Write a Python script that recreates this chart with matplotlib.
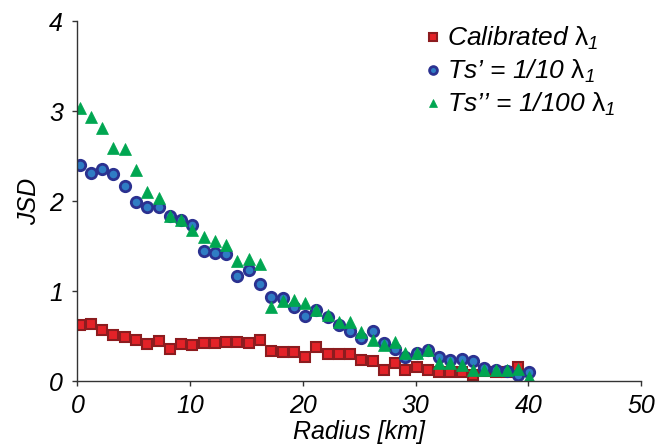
import matplotlib
matplotlib.use("Agg")
import matplotlib.pyplot as plt

plt.rcParams['font.family'] = ['Liberation Sans', 'DejaVu Sans']
plt.rcParams['font.style'] = 'italic'
plt.rcParams['mathtext.fontset'] = 'custom'
plt.rcParams['mathtext.rm'] = 'Liberation Sans:style=normal'
plt.rcParams['mathtext.it'] = 'Liberation Sans:style=italic'
plt.rcParams['mathtext.sf'] = 'Liberation Sans:style=italic'

# radius of each sample [km]
radius = [0.2, 1.2, 2.2, 3.2, 4.2, 5.2, 6.2, 7.2, 8.2, 9.2,
          10.2, 11.2, 12.2, 13.2, 14.2, 15.2, 16.2, 17.2, 18.2, 19.2,
          20.2, 21.2, 22.2, 23.2, 24.2, 25.2, 26.2, 27.2, 28.2, 29.1,
          30.1, 31.1, 32.1, 33.1, 34.1, 35.1, 36.1, 37.1, 38.1, 39.1, 40.1]

jsd_calibrated = [0.62, 0.64, 0.57, 0.51, 0.49, 0.46, 0.41, 0.45, 0.36, 0.41,
                  0.40, 0.43, 0.43, 0.44, 0.44, 0.43, 0.46, 0.34, 0.32, 0.33,
                  0.27, 0.38, 0.30, 0.30, 0.30, 0.24, 0.23, 0.13, 0.20, 0.12,
                  0.16, 0.12, 0.10, 0.10, 0.10, 0.07, 0.11, 0.10, 0.10, 0.16]

jsd_ts10 = [2.40, 2.31, 2.36, 2.30, 2.17, 1.99, 1.94, 1.93, 1.84, 1.79,
            1.73, 1.45, 1.42, 1.41, 1.17, 1.24, 1.08, 0.94, 0.93, 0.83,
            0.73, 0.79, 0.71, 0.63, 0.56, 0.48, 0.56, 0.43, 0.36, 0.27,
            0.31, 0.35, 0.27, 0.24, 0.25, 0.23, 0.15, 0.13, 0.11, 0.07, 0.10]

jsd_ts100 = [3.03, 2.93, 2.81, 2.59, 2.58, 2.35, 2.10, 2.04, 1.84, 1.79,
             1.68, 1.60, 1.56, 1.51, 1.34, 1.36, 1.30, 0.83, 0.89, 0.90,
             0.87, 0.79, 0.74, 0.66, 0.66, 0.55, 0.46, 0.40, 0.44, 0.31,
             0.31, 0.35, 0.20, 0.20, 0.18, 0.13, 0.13, 0.13, 0.13, 0.14, 0.05]

lam = '$\\mathrm{\u03bb}_{\\mathsf{1}}$'

fig = plt.figure(figsize=(6.67, 4.47), dpi=100)
ax = fig.add_axes([0.116, 0.147, 0.845, 0.806])

ax.plot(radius[:len(jsd_calibrated)], jsd_calibrated, 's', ls='none',
        ms=7.5, mfc='#e32228', mec='#8c1c1f', mew=1.5,
        label='Calibrated ' + lam)
ax.plot(radius, jsd_ts10, 'o', ls='none',
        ms=7.5, mfc='#2f7cc4', mec='#2b3190', mew=2,
        label="Ts\u2019 = 1/10 " + lam)
ax.plot(radius, jsd_ts100, '^', ls='none',
        ms=8.5, mfc='#00a651', mec='#00a651', mew=0.5,
        label="Ts\u2019\u2019 = 1/100 " + lam)

ax.set_xlim(0, 50)
ax.set_ylim(0, 4)
ax.set_xticks([0, 10, 20, 30, 40, 50])
ax.set_yticks([0, 1, 2, 3, 4])
ax.spines['top'].set_visible(False)
ax.spines['right'].set_visible(False)
for s in ('left', 'bottom'):
    ax.spines[s].set_color('#333333')
    ax.spines[s].set_linewidth(1)
ax.tick_params(direction='out', length=3.5, width=1, color='#333333',
               labelsize=18)
ax.tick_params(axis='x', pad=6)
ax.tick_params(axis='y', pad=7)

ax.set_xlabel('Radius [km]', fontsize=18, labelpad=1)
ax.set_ylabel('JSD', fontsize=18, labelpad=6)

leg = ax.legend(loc='upper left', bbox_to_anchor=(0.598, 1.018), frameon=False,
                fontsize=19, handlelength=0.6, handletextpad=0.25,
                labelspacing=0.22, markerscale=0.75, borderaxespad=0)

fig.savefig('out.png', dpi=100)
